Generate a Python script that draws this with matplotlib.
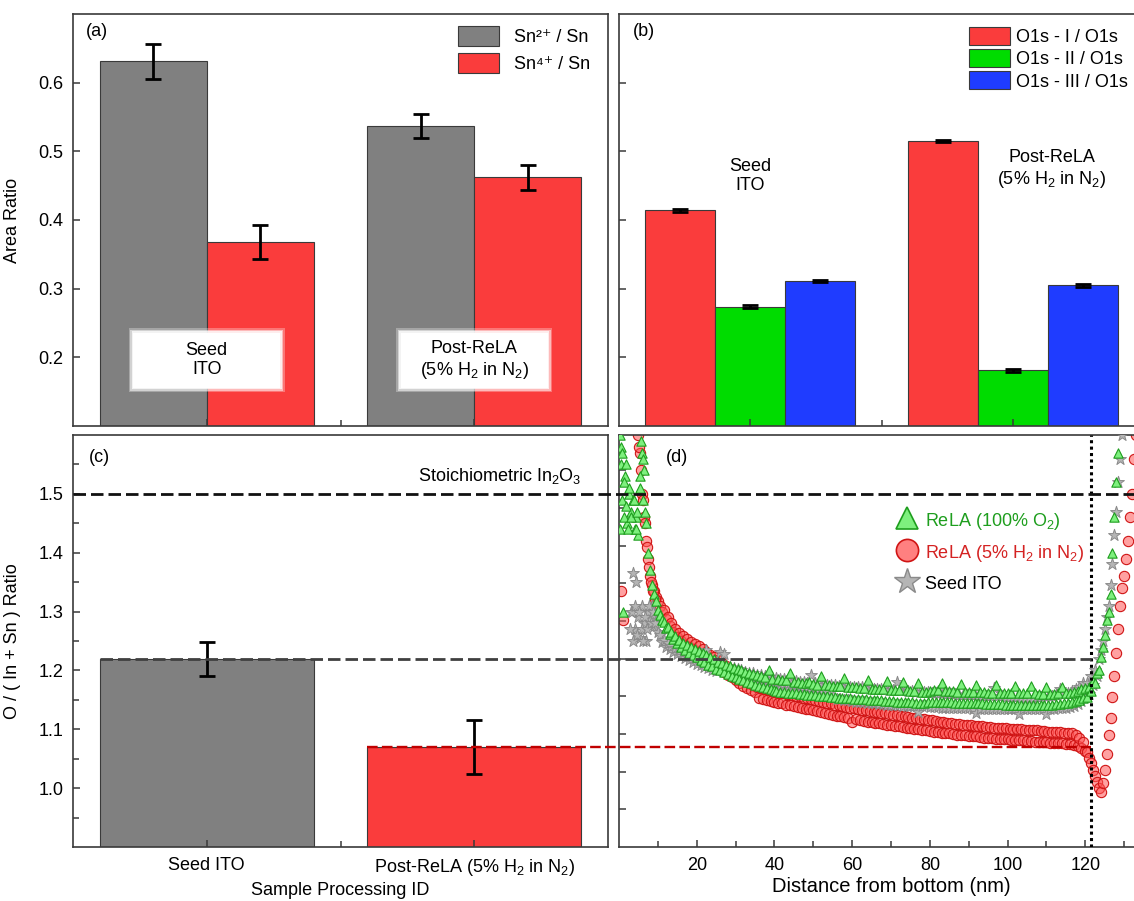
"""
ITO XPS / 조성 비교 그림 재현 - (a) Sn 3d, (b) O 1s, (c) O/(In+Sn), (d) depth profile
"""

import numpy as np
import matplotlib
matplotlib.use('Agg')
import matplotlib.pyplot as plt
from matplotlib.lines import Line2D
from matplotlib.patches import Rectangle

plt.rcParams['font.family'] = ['Liberation Sans', 'DejaVu Sans']
plt.rcParams['mathtext.fontset'] = 'custom'
plt.rcParams['mathtext.rm'] = 'Liberation Sans'
plt.rcParams['mathtext.it'] = 'Liberation Sans:italic'
plt.rcParams['mathtext.bf'] = 'Liberation Sans:bold'
plt.rcParams['font.size'] = 13

# ---------------- data ----------------
groups = ['Seed ITO', 'Post-ReLA (5% H$_\\mathregular{2}$ in N$_\\mathregular{2}$)']
box_labels = ['Seed\nITO', 'Post-ReLA\n(5% H$_\\mathregular{2}$ in N$_\\mathregular{2}$)']

# (a) Sn 3d area ratio
sn2 = [0.631, 0.537]
sn2_err = [0.025, 0.017]
sn4 = [0.368, 0.462]
sn4_err = [0.025, 0.018]

# (b) O 1s area ratio
o1s_1 = [0.414, 0.515]
o1s_2 = [0.274, 0.181]
o1s_3 = [0.311, 0.305]
o1s_err = [0.002, 0.002]

# (c) O / (In + Sn)
o_ratio = [1.220, 1.070]
o_ratio_err = [0.029, 0.046]
stoich = 1.5

# (d) depth profiles, one value every 0.5 nm starting at 0.5 nm
depth_step = 0.5
nan = np.nan
green_o2 = [
    1.58, 1.30, 1.53, 1.45, 1.50, 1.47, 1.49, 1.44, 1.46, 1.43,
    1.51, 1.57, 1.54, 1.45, 1.40, 1.37, 1.345, 1.33, 1.318, 1.302,
    1.295, 1.286, 1.282, 1.272, 1.274, 1.262, 1.266, 1.254, 1.258, 1.247,
    1.252, 1.24, 1.247, 1.234, 1.243, 1.23, 1.24, 1.226, 1.236, 1.222,
    1.233, 1.218, 1.229, 1.214, 1.226, 1.21, 1.222, 1.207, 1.219, 1.203,
    1.215, 1.2, 1.212, 1.197, 1.209, 1.194, 1.207, 1.19, 1.204, 1.188,
    1.202, 1.185, 1.2, 1.183, 1.197, 1.18, 1.196, 1.178, 1.194, 1.176,
    1.193, 1.174, 1.19, 1.172, 1.189, 1.17, 1.2, 1.168, 1.186, 1.167,
    1.165, 1.185, 1.164, 1.184, 1.163, 1.183, 1.162, 1.195, 1.162, 1.181,
    1.161, 1.18, 1.16, 1.179, 1.16, 1.178, 1.159, 1.18, 1.158, 1.177,
    1.158, 1.176, 1.157, 1.19, 1.157, 1.175, 1.156, 1.176, 1.155, 1.174,
    1.155, 1.174, 1.154, 1.173, 1.154, 1.187, 1.153, 1.172, 1.153, 1.171,
    1.152, 1.171, 1.152, 1.17, 1.151, 1.17, 1.151, 1.184, 1.15, 1.169,
    1.15, 1.169, 1.149, 1.168, 1.149, 1.168, 1.148, 1.182, 1.148, 1.167,
    1.148, 1.167, 1.147, 1.166, 1.147, 1.18, 1.147, 1.166, 1.146, 1.165,
    1.146, 1.165, 1.145, 1.178, 1.145, 1.164, 1.145, 1.164, 1.146, 1.165,
    1.147, 1.166, 1.147, 1.166, 1.146, 1.178, 1.146, 1.165, 1.146, 1.165,
    1.146, 1.165, 1.145, 1.164, 1.145, 1.177, 1.145, 1.164, 1.145, 1.164,
    1.144, 1.163, 1.144, 1.176, 1.144, 1.163, 1.144, 1.163, 1.143, 1.162,
    1.143, 1.162, 1.143, 1.175, 1.143, 1.162, 1.143, 1.162, 1.142, 1.161,
    1.142, 1.161, 1.142, 1.174, 1.142, 1.161, 1.142, 1.161, 1.142, 1.161,
    1.142, 1.173, 1.142, 1.161, 1.142, 1.16, 1.142, 1.16, 1.142, 1.172,
    1.142, 1.16, 1.142, 1.16, 1.143, 1.161, 1.143, 1.171, 1.144, 1.161,
    1.145, 1.162, 1.146, 1.163, 1.148, 1.165, 1.15, 1.168, 1.153, 1.17,
    1.155, 1.172, 1.165, 1.182, 1.178, 1.195, 1.2, 1.222, 1.24, 1.26,
    1.285, 1.30, 1.33, 1.40, 1.46, 1.52, 1.57, 1.61,
]
red_h2 = [
    1.335, 1.285, nan, nan, nan, nan, nan, nan, nan, 1.61,
    1.57, 1.50, 1.46, 1.42, 1.39, 1.36, 1.345, 1.335, 1.325, 1.318,
    1.31, 1.30, 1.302, 1.288, 1.29, 1.276, 1.28, 1.265, 1.27, 1.256,
    1.264, 1.25, 1.258, 1.244, 1.253, 1.24, 1.249, 1.236, 1.245, 1.232,
    1.241, 1.228, 1.236, 1.222, 1.232, 1.218, 1.227, 1.213, 1.222, 1.208,
    1.217, 1.203, 1.212, 1.198, 1.207, 1.193, 1.202, 1.188, 1.197, 1.183,
    1.192, 1.178, 1.187, 1.174, 1.183, 1.17, 1.179, 1.166, 1.176, 1.163,
    1.172, 1.154, 1.17, 1.152, 1.168, 1.15, 1.167, 1.148, 1.165, 1.147,
    1.164, 1.145, 1.162, 1.144, 1.161, 1.142, 1.16, 1.141, 1.158, 1.14,
    1.157, 1.138, 1.156, 1.137, 1.154, 1.135, 1.153, 1.134, 1.151, 1.132,
    1.15, 1.131, 1.148, 1.129, 1.147, 1.128, 1.145, 1.126, 1.144, 1.125,
    1.142, 1.123, 1.141, 1.122, 1.14, 1.121, 1.138, 1.119, 1.137, 1.113,
    1.136, 1.117, 1.135, 1.116, 1.133, 1.114, 1.132, 1.113, 1.131, 1.112,
    1.13, 1.111, 1.129, 1.11, 1.128, 1.109, 1.127, 1.108, 1.126, 1.107,
    1.125, 1.106, 1.124, 1.105, 1.123, 1.104, 1.122, 1.103, 1.121, 1.102,
    1.12, 1.101, 1.119, 1.1, 1.118, 1.099, 1.117, 1.098, 1.116, 1.097,
    1.115, 1.096, 1.114, 1.095, 1.113, 1.094, 1.112, 1.093, 1.111, 1.093,
    1.11, 1.092, 1.109, 1.091, 1.109, 1.09, 1.108, 1.09, 1.107, 1.089,
    1.107, 1.088, 1.106, 1.088, 1.105, 1.087, 1.105, 1.086, 1.104, 1.086,
    1.104, 1.085, 1.103, 1.084, 1.103, 1.084, 1.102, 1.083, 1.102, 1.083,
    1.101, 1.082, 1.101, 1.082, 1.1, 1.081, 1.1, 1.081, 1.099, 1.08,
    1.099, 1.08, 1.098, 1.079, 1.098, 1.079, 1.097, 1.078, 1.097, 1.078,
    1.096, 1.077, 1.096, 1.077, 1.095, 1.076, 1.095, 1.076, 1.094, 1.075,
    1.094, 1.075, 1.093, 1.074, 1.09, 1.072, 1.085, 1.068, 1.078, 1.063,
    1.062, 1.052, 1.042, 1.03, 1.02, 1.01, 1.0, 0.993, 1.008, 1.03,
    1.058, 1.09, 1.12, 1.155, 1.19, 1.23, 1.27, 1.31, 1.34, 1.36,
    1.39, 1.42, 1.46, 1.5, 1.56, 1.6,
]
gray_seed = [
    nan, nan, nan, nan, nan, 1.30, 1.365, 1.27, 1.35, 1.29,
    1.255, 1.31, 1.28, 1.25, 1.30, 1.285, 1.31, 1.275, 1.29, 1.265,
    1.26, 1.248, 1.252, 1.24, 1.246, 1.236, 1.242, 1.232, 1.238, 1.228,
    1.236, 1.224, 1.232, 1.221, 1.229, 1.218, 1.226, 1.214, 1.223, 1.211,
    1.225, 1.209, 1.222, 1.206, 1.235, 1.204, 1.219, 1.201, 1.216, 1.199,
    1.213, 1.232, 1.21, 1.228, 1.208, 1.195, 1.206, 1.192, 1.204, 1.19,
    1.202, 1.188, 1.2, 1.186, 1.198, 1.184, 1.196, 1.182, 1.195, 1.18,
    1.193, 1.178, 1.192, 1.177, 1.19, 1.175, 1.189, 1.174, 1.188, 1.172,
    1.187, 1.171, 1.186, 1.17, 1.185, 1.169, 1.184, 1.168, 1.183, 1.167,
    1.182, 1.166, 1.181, 1.165, 1.18, 1.164, 1.179, 1.163, 1.192, 1.162,
    1.178, 1.161, 1.177, 1.16, 1.176, 1.159, 1.176, 1.158, 1.175, 1.157,
    1.175, 1.152, 1.174, 1.151, 1.173, 1.15, 1.173, 1.149, 1.172, 1.148,
    1.172, 1.147, 1.171, 1.146, 1.171, 1.146, 1.17, 1.145, 1.17, 1.144,
    1.169, 1.144, 1.169, 1.143, 1.168, 1.143, 1.168, 1.142, 1.167, 1.142,
    1.167, 1.141, 1.18, 1.141, 1.166, 1.14, 1.166, 1.14, 1.165, 1.14,
    1.165, 1.139, 1.164, 1.13, 1.164, 1.139, 1.163, 1.139, 1.163, 1.138,
    1.162, 1.138, 1.162, 1.138, 1.161, 1.137, 1.161, 1.137, 1.16, 1.137,
    1.16, 1.137, 1.16, 1.136, 1.159, 1.136, 1.159, 1.136, 1.158, 1.136,
    1.158, 1.135, 1.158, 1.127, 1.157, 1.135, 1.157, 1.135, 1.157, 1.135,
    1.156, 1.135, 1.17, 1.134, 1.156, 1.134, 1.156, 1.134, 1.155, 1.134,
    1.155, 1.134, 1.155, 1.134, 1.155, 1.126, 1.154, 1.134, 1.154, 1.134,
    1.154, 1.134, 1.154, 1.134, 1.155, 1.134, 1.155, 1.134, 1.156, 1.126,
    1.156, 1.135, 1.157, 1.135, 1.158, 1.136, 1.168, 1.136, 1.16, 1.137,
    1.162, 1.138, 1.165, 1.14, 1.168, 1.143, 1.172, 1.148, 1.178, 1.155,
    1.178, 1.16, 1.19, 1.175, 1.2, 1.19, 1.22, 1.235, 1.25, 1.27,
    1.29, 1.31, 1.345, 1.38, 1.43, 1.47, 1.52, 1.56, 1.6,
]
# extra near-surface points (the first ~10 nm is measured more densely)
green_surface_nm = [0.2, 0.3, 0.4, 0.7, 0.9, 1.2, 1.3, 1.7, 1.9, 2.2,
                    2.7, 3.2, 3.8, 4.3, 4.7, 5.3, 5.7, 6.2, 6.3, 6.7]
green_surface = [1.60, 1.44, 1.55, 1.49, 1.57, 1.46, 1.52, 1.48, 1.55, 1.44,
                 1.51, 1.46, 1.49, 1.44, 1.47, 1.53, 1.59, 1.49, 1.56, 1.47]
red_surface_nm = [4.8, 5.2, 5.7, 6.2, 6.7, 7.2, 7.7, 8.2, 8.8, 9.3]
red_surface = [1.60, 1.58, 1.54, 1.49, 1.45, 1.41, 1.375, 1.35, 1.335, 1.322]
gray_surface_nm = [2.8, 3.3, 3.7, 4.2, 4.7, 5.2, 5.8, 6.3, 6.8, 7.3, 7.8, 8.3, 8.8, 9.3]
gray_surface = [1.27, 1.30, 1.25, 1.31, 1.26, 1.30, 1.27, 1.25, 1.29, 1.27, 1.31, 1.28, 1.30, 1.28]
interface_nm = 121.5

# ---------------- colours ----------------
C_GRAY = '#808080'
C_RED = '#fa3c3c'
C_GREEN = '#00dc00'
C_BLUE = '#1f3cff'
C_EDGE = '#3a3a3a'

# ---------------- layout (pixels of the 1134x901 canvas) ----------------
W, H = 1134, 901
fig = plt.figure(figsize=(W / 100, H / 100), dpi=100)


def px_axes(left, top, right, bottom):
    return fig.add_axes([left / W, 1 - bottom / H, (right - left) / W, (bottom - top) / H])


def style(ax):
    for s in ax.spines.values():
        s.set_color(C_EDGE)
        s.set_linewidth(1.2)
    ax.tick_params(which='both', direction='in', width=1.1, color=C_EDGE,
                   labelsize=13, pad=7)
    ax.tick_params(which='major', length=5)
    ax.tick_params(which='minor', length=4)


ax_a = px_axes(73, 14, 608, 426)
ax_b = px_axes(619, 14, 1144, 426)
ax_c = px_axes(73, 435, 608, 847)
ax_d = px_axes(619, 435, 1163, 847)
for ax in (ax_a, ax_b, ax_c, ax_d):
    style(ax)

err_kw = dict(ecolor='black', elinewidth=2, capthick=2)
x = np.arange(1, len(groups) + 1)

# ---------------- (a) ----------------
w2 = 0.4
ax_a.bar(x - w2 / 2, sn2, w2, yerr=sn2_err, capsize=6, error_kw=err_kw,
         color=C_GRAY, edgecolor=C_EDGE, linewidth=0.8, label='Sn²⁺ / Sn')
ax_a.bar(x + w2 / 2, sn4, w2, yerr=sn4_err, capsize=6, error_kw=err_kw,
         color=C_RED, edgecolor=C_EDGE, linewidth=0.8, label='Sn⁴⁺ / Sn')
ax_a.set_xlim(0.5, 2.5)
ax_a.set_ylim(0.1, 0.7)
ax_a.set_xticks(x)
ax_a.set_xticks([1.5], minor=True)
ax_a.set_xticklabels([])
ax_a.set_yticks([0.2, 0.3, 0.4, 0.5, 0.6])
ax_a.set_ylabel('Area Ratio', fontsize=13)
ax_a.yaxis.set_label_coords(-0.098, 0.5)

# white label boxes with soft edges
bw, bh, by = 0.55, 0.08, 0.196
for xc, lab in zip(x, box_labels):
    for k, alpha in [(3, 0.3), (2, 0.5), (1, 0.75), (0, 1.0)]:
        dx, dy = k * 1.5 / 267.7, k * 1.5 / 687.5
        ax_a.add_patch(Rectangle((xc - bw / 2 - dx, by - bh / 2 - dy), bw + 2 * dx, bh + 2 * dy,
                                 facecolor='white', edgecolor='none', alpha=alpha, zorder=4))
    ax_a.text(xc, by, lab, ha='center', va='center', fontsize=13, zorder=5)

ax_a.legend(loc='upper left', bbox_to_anchor=((458 - 73) / 535, 1 - 12 / 412),
            frameon=False, fontsize=13, handlelength=2.28, handleheight=1.33,
            labelspacing=0.39, handletextpad=0.8, borderpad=0, borderaxespad=0)
ax_a.text(0.044, 0.957, '(a)', transform=ax_a.transAxes, ha='center', va='center', fontsize=13)

# ---------------- (b) ----------------
w3 = 0.267
ax_b.bar(x - w3, o1s_1, w3, yerr=o1s_err, capsize=6, error_kw=err_kw,
         color=C_RED, edgecolor=C_EDGE, linewidth=0.8, label='O1s - I / O1s')
ax_b.bar(x, o1s_2, w3, yerr=o1s_err, capsize=6, error_kw=err_kw,
         color=C_GREEN, edgecolor=C_EDGE, linewidth=0.8, label='O1s - II / O1s')
ax_b.bar(x + w3, o1s_3, w3, yerr=o1s_err, capsize=6, error_kw=err_kw,
         color=C_BLUE, edgecolor=C_EDGE, linewidth=0.8, label='O1s - III / O1s')
ax_b.set_xlim(0.5, 2.5)
ax_b.set_ylim(0.1, 0.7)
ax_b.set_xticks(x)
ax_b.set_xticks([1.5], minor=True)
ax_b.set_xticklabels([])
ax_b.set_yticks([0.2, 0.3, 0.4, 0.5, 0.6])
ax_b.set_yticklabels([])
ax_b.text(1.0, 0.464, 'Seed\nITO', ha='center', va='center', fontsize=13)
ax_b.text(2.15, 0.474, 'Post-ReLA\n(5% H$_\\mathregular{2}$ in N$_\\mathregular{2}$)',
          ha='center', va='center', fontsize=13)
ax_b.legend(loc='upper left', bbox_to_anchor=(0.666, 0.968), frameon=False,
            fontsize=13, handlelength=2.3, handleheight=1.15, labelspacing=0.17,
            handletextpad=0.3, borderpad=0, borderaxespad=0)
ax_b.text(0.048, 0.957, '(b)', transform=ax_b.transAxes, ha='center', va='center', fontsize=13)

# ---------------- (c) ----------------
ax_c.bar(x, o_ratio, 0.8, yerr=o_ratio_err, capsize=6, error_kw=err_kw,
         color=[C_GRAY, C_RED], edgecolor=C_EDGE, linewidth=0.8)
ax_c.set_xlim(0.5, 2.5)
ax_c.set_ylim(0.9, 1.6)
ax_c.set_xticks(x)
ax_c.set_xticks([1.5], minor=True)
ax_c.set_xticklabels(groups, fontsize=13)
ax_c.set_yticks([1.0, 1.1, 1.2, 1.3, 1.4, 1.5])
ax_c.set_yticks([0.95, 1.05, 1.15, 1.25, 1.35, 1.45, 1.55], minor=True)
ax_c.set_xlabel('Sample Processing ID', fontsize=13, labelpad=3)
ax_c.set_ylabel('O / ( In + Sn ) Ratio', fontsize=13)
ax_c.yaxis.set_label_coords(-0.098, 0.5)
ax_c.text(2.095, 1.531, 'Stoichiometric In$_\\mathregular{2}$O$_\\mathregular{3}$',
          ha='center', va='center', fontsize=13)
ax_c.text(0.0495, 0.946, '(c)', transform=ax_c.transAxes, ha='center', va='center', fontsize=13)

# ---------------- (d) ----------------
def depth_of(values):
    return depth_step * np.arange(1, len(values) + 1)

red_kw = dict(marker='o', s=55, facecolor=(1.0, 0.33, 0.33, 0.55), edgecolor='#d01515',
              linewidth=0.8, zorder=2)
gray_kw = dict(marker='*', s=80, facecolor='#b5b5b5', edgecolor='#8a8a8a', linewidth=0.7, zorder=3)
green_kw = dict(marker='^', s=45, facecolor='#7ef07e', edgecolor='#1e9e1e', linewidth=0.8, zorder=4)

ax_d.scatter(depth_of(red_h2), red_h2, **red_kw)
ax_d.scatter(red_surface_nm, red_surface, **red_kw)
ax_d.scatter(depth_of(gray_seed), gray_seed, **gray_kw)
ax_d.scatter(gray_surface_nm, gray_surface, **gray_kw)
ax_d.scatter(depth_of(green_o2), green_o2, **green_kw)
ax_d.scatter(green_surface_nm, green_surface, **green_kw)
ax_d.axvline(interface_nm, color='black', linewidth=2.2, linestyle=(0, (1, 1.1)), zorder=5)
ax_d.set_xlim(0, 140)
ax_d.set_ylim(0.9, 1.6)
ax_d.set_xticks([20, 40, 60, 80, 100, 120])
ax_d.set_xticks([10, 30, 50, 70, 90, 110, 130], minor=True)
ax_d.set_yticks([0.964, 1.028, 1.092, 1.156, 1.22, 1.284, 1.348, 1.412, 1.476, 1.54])
ax_d.set_yticklabels([])
ax_d.set_xlabel('Distance from bottom (nm)', fontsize=14.5, labelpad=2)
ax_d.text(0.106, 0.946, '(d)', transform=ax_d.transAxes, ha='center', va='center', fontsize=13)

handles = [
    Line2D([], [], ls='none', marker='^', ms=16, mfc='#7ef07e', mec='#1e9e1e', mew=1.2),
    Line2D([], [], ls='none', marker='o', ms=16, mfc=(1.0, 0.5, 0.5), mec='#d01515', mew=1.2),
    Line2D([], [], ls='none', marker='*', ms=19, mfc='#b5b5b5', mec='#8a8a8a', mew=1.0),
]
leg = ax_d.legend(handles, ['ReLA (100% O$_\\mathregular{2}$)',
                            'ReLA (5% H$_\\mathregular{2}$ in N$_\\mathregular{2}$)',
                            'Seed ITO'],
                  loc='upper left', bbox_to_anchor=(0.504, 0.818), frameon=False,
                  fontsize=13, handlelength=1.5, handleheight=1.4, labelspacing=0.5,
                  handletextpad=0.25, borderpad=0, borderaxespad=0)
for t, col in zip(leg.get_texts(), ['#1e9e1e', '#d42222', 'black']):
    t.set_color(col)

# ---------------- reference lines running across (c) and (d) ----------------
def to_fig(ax, xd, yd):
    return fig.transFigure.inverted().transform(ax.transData.transform((xd, yd)))

ref_lines = [
    (0.5, 140, stoich, '#111111', 2.0),
    (1 - 0.4, interface_nm, o_ratio[0], '#404040', 2.0),
    (2 - 0.4, interface_nm, o_ratio[1], '#c00000', 1.7),
]
for xs, xe, yv, col, lw in ref_lines:
    p0 = to_fig(ax_c, xs, yv)
    p1 = to_fig(ax_d, xe, yv)
    fig.add_artist(Line2D([p0[0], p1[0]], [p0[1], p1[1]], transform=fig.transFigure,
                          color=col, linewidth=lw, linestyle=(0, (4.5, 1.8)), zorder=6))

fig.savefig('out.png', dpi=100)
